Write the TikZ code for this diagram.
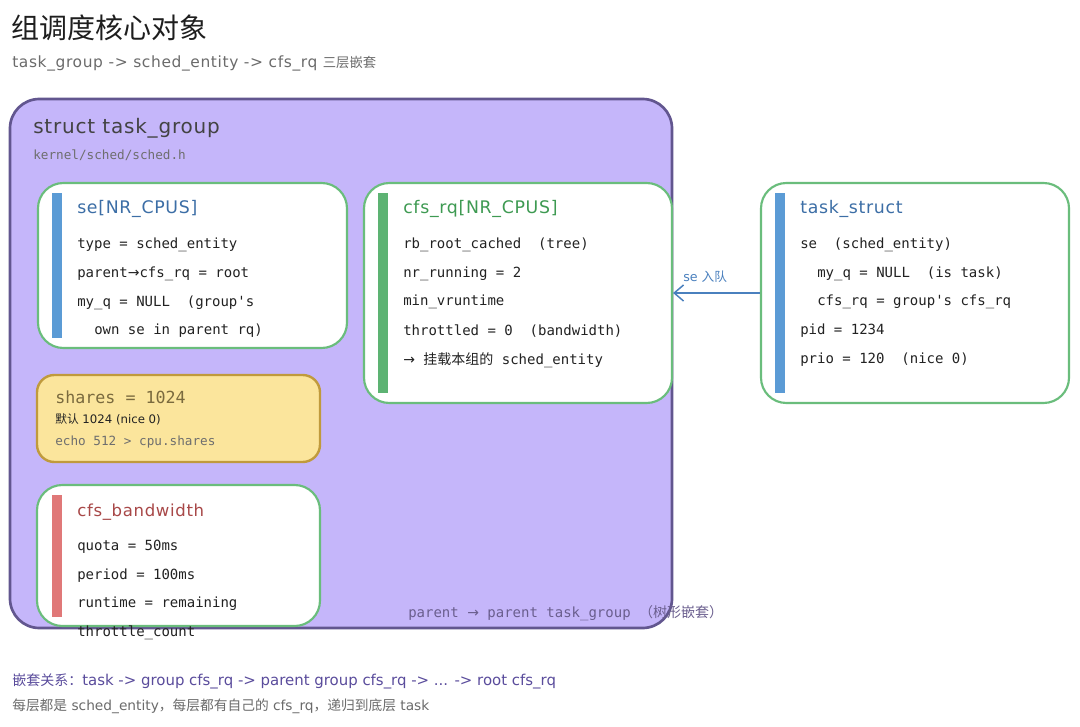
\documentclass[tikz,border=0pt]{standalone}
\usepackage{fontspec}
\setmainfont{DejaVu Sans}
\newfontfamily\cjk{Noto Sans CJK SC}
\newfontfamily\handf{DejaVu Sans}
\newfontfamily\handls[LetterSpace=4]{DejaVu Sans}
\newfontfamily\mono{DejaVu Sans Mono}
\newcommand\rarr{{\handf →}}
\usetikzlibrary{arrows.meta}
\definecolor{titlec}{HTML}{1E1E1E}
\definecolor{subc}{HTML}{6B6B6B}
\definecolor{purplefill}{HTML}{C5B6FA}
\definecolor{purpleedge}{HTML}{62568F}
\definecolor{greenedge}{HTML}{6ABD7C}
\definecolor{bluebar}{HTML}{5B9BD5}
\definecolor{greenbar}{HTML}{5DB373}
\definecolor{redbar}{HTML}{E07878}
\definecolor{bluetxt}{HTML}{3C6EA6}
\definecolor{greentxt}{HTML}{3E9A52}
\definecolor{redtxt}{HTML}{A84848}
\definecolor{yellowfill}{HTML}{FBE59C}
\definecolor{yellowedge}{HTML}{C09A3C}
\definecolor{sharestxt}{HTML}{7A6A3E}
\definecolor{codec}{HTML}{222222}
\definecolor{graycode}{HTML}{6E6E6E}
\definecolor{parentc}{HTML}{6A5E8E}
\definecolor{nestc}{HTML}{5A4C9C}
\definecolor{arrowc}{HTML}{4A80BE}
\tikzset{
  card/.style={draw=greenedge, line width=1.6pt, fill=white, rounded corners=19pt, inner sep=0pt},
  bar/.style={inner sep=0pt, minimum width=7.5pt},
  txt/.style={anchor=west, inner sep=0pt},
  code/.style={txt, text=codec, font=\mono\fontsize{10.5}{12}\selectfont},
  hand/.style={txt, font=\handls\fontsize{13}{15}\selectfont},
}
\begin{document}
\begin{tikzpicture}[x=0.75pt, y=-0.75pt]
\fill[white] (0,0) rectangle (1080,727);
\useasboundingbox (0,0) rectangle (1080,727);

% title
\node[txt, text=titlec, font=\cjk\fontsize{21}{25}\selectfont] (title) at (11,28) {组调度核心对象};
\node[txt, text=subc, font=\handls\fontsize{11.6}{13}\selectfont] (subtitle) at (12,63) {task\_group -> sched\_entity -> cfs\_rq {\cjk\fontsize{10}{12}\selectfont 三层嵌套}};

% big task_group box
\node[draw=purpleedge, line width=2pt, fill=purplefill, rounded corners=22pt, inner sep=0pt,
      minimum width=662*0.75pt, minimum height=529*0.75pt] (tg) at (341,363.5) {};
\node[txt, text=codec!85, font=\handls\fontsize{15}{18}\selectfont] (tgtitle) at (33,128) {struct task\_group};
\node[txt, text=graycode, font=\mono\fontsize{9.5}{11}\selectfont] (tgpath) at (33,155) {kernel/sched/sched.h};

% se box
\node[card, minimum width=309*0.75pt, minimum height=165*0.75pt] (se) at (192.5,265.5) {};
\node[bar, fill=bluebar, minimum height=145*0.75pt] (sebar) at (57,265.5) {};
\node[hand, text=bluetxt] (setitle) at (77,209) {se[NR\_CPUS]};
\node[code] (se1) at (77,245) {type = sched\_entity};
\node[code] (se2) at (77,274) {parent\rarr cfs\_rq = root};
\node[code] (se3) at (77,303) {my\_q = NULL\ \ (group's};
\node[code] (se4) at (94,331) {own se in parent rq)};

% cfs_rq box
\node[card, minimum width=308*0.75pt, minimum height=220*0.75pt] (cfsrq) at (518,293) {};
\node[bar, fill=greenbar, minimum height=200*0.75pt] (cfsbar) at (383,293) {};
\node[hand, text=greentxt] (cfstitle) at (403,209) {cfs\_rq[NR\_CPUS]};
\node[code] (c1) at (403,245) {rb\_root\_cached\ \ (tree)};
\node[code] (c2) at (403,274) {nr\_running = 2};
\node[code] (c3) at (403,302) {min\_vruntime};
\node[code] (c4) at (403,331) {throttled = 0\ \ (bandwidth)};
\node[code] (c5) at (403,360) {\rarr\ {\cjk 挂载本组的} sched\_entity};

% task_struct box
\node[card, minimum width=308*0.75pt, minimum height=220*0.75pt] (task) at (915,293) {};
\node[bar, fill=bluebar, minimum height=200*0.75pt] (taskbar) at (780,293) {};
\node[hand, text=bluetxt] (tasktitle) at (800,209) {task\_struct};
\node[code] (t1) at (800,245) {se\ \ (sched\_entity)};
\node[code] (t2) at (817,274) {my\_q = NULL\ \ (is task)};
\node[code] (t3) at (817,302) {cfs\_rq = group's cfs\_rq};
\node[code] (t4) at (800,331) {pid = 1234};
\node[code] (t5) at (800,360) {prio = 120\ \ (nice 0)};

% enqueue arrow
\draw[arrowc, line width=1.1pt, -{Straight Barb[length=7pt,width=12pt]}] (task.west) -- (cfsrq.east);
\node[txt, text=arrowc, font=\handf\fontsize{9.5}{11}\selectfont] (enq) at (683,277) {se\ {\cjk 入队}};

% shares box
\node[draw=yellowedge, line width=1.8pt, fill=yellowfill, rounded corners=13pt, inner sep=0pt,
      minimum width=283*0.75pt, minimum height=87*0.75pt] (shares) at (178.5,418.5) {};
\node[txt, text=sharestxt, font=\mono\fontsize{12.5}{14}\selectfont] (sh1) at (55,397) {shares = 1024};
\node[txt, text=codec, font=\handf\fontsize{8.8}{11}\selectfont] (sh2) at (55,419) {{\cjk 默认} 1024 (nice 0)};
\node[txt, text=graycode, font=\mono\fontsize{9.5}{11}\selectfont] (sh3) at (55,442) {echo 512 > cpu.shares};

% cfs_bandwidth box
\node[card, minimum width=283*0.75pt, minimum height=141*0.75pt] (bw) at (178.5,555.5) {};
\node[bar, fill=redbar, minimum height=122*0.75pt] (bwbar) at (57,556) {};
\node[hand, text=redtxt, font=\handls\fontsize{12.4}{15}\selectfont] (bwtitle) at (77,512) {cfs\_bandwidth};
\node[code] (b1) at (77,547) {quota = 50ms};
\node[code] (b2) at (77,576) {period = 100ms};
\node[code] (b3) at (77,604) {runtime = remaining};
\node[code] (b4) at (77,633) {throttle\_count};

% parent note
\node[txt, text=parentc, font=\mono\fontsize{10.5}{12}\selectfont] (parent) at (408,613) {parent \rarr\ parent task\_group {\cjk （树形嵌套）}};

% footer
\node[txt, text=nestc, font=\handf\fontsize{11.2}{13}\selectfont] (nest) at (12,681) {{\cjk\fontsize{10.5}{13}\selectfont 嵌套关系：}task -> group cfs\_rq -> parent group cfs\_rq -> ... -> root cfs\_rq};
\node[txt, text=subc, font=\handf\fontsize{10.3}{12}\selectfont] (note) at (12,706) {{\cjk 每层都是} sched\_entity{\cjk ，每层都有自己的} cfs\_rq{\cjk ，递归到底层} task};
\end{tikzpicture}
\end{document}
